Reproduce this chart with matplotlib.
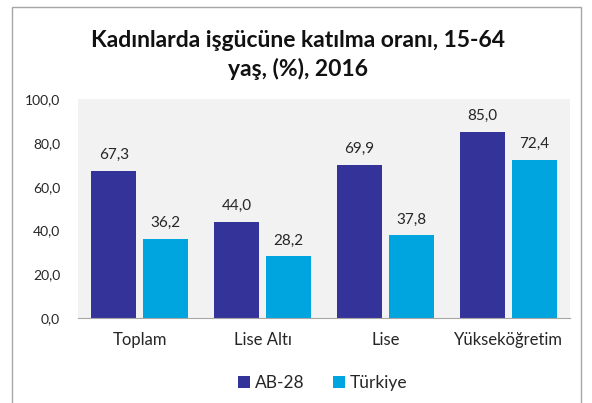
import matplotlib
import numpy as np

matplotlib.use("Agg")
import matplotlib.pyplot as plt  # noqa: E402
from matplotlib.patches import Rectangle  # noqa: E402

categories = ["Toplam", "Lise Altı", "Lise", "Yükseköğretim"]
ab28 = [67.3, 44.0, 69.9, 85.0]
turkiye = [36.2, 28.2, 37.8, 72.4]
series_names = ["AB-28", "Türkiye"]
yticks = [0, 20, 40, 60, 80, 100]

plt.rcParams["font.family"] = ["Lato", "DejaVu Sans"]

fig = plt.figure(figsize=(5.92, 4.03), dpi=100)
ax = fig.add_axes([0.132, 0.211, 0.831, 0.543])

# outer chart border (bottom edge runs off the image)
fig.patches.append(Rectangle((12 / 592, -0.05), 569 / 592, 1 - 7 / 403 + 0.05,
                             transform=fig.transFigure, fill=False,
                             edgecolor="#a6a6a6", linewidth=1.0))

x = np.arange(len(categories))
w = 0.366
off = 0.211
dark = "#333399"
light = "#00A5DF"
b1 = ax.bar(x - off, ab28, w, color=dark, label=series_names[0])
b2 = ax.bar(x + off, turkiye, w, color=light, label=series_names[1])

for bars, vals in ((b1, ab28), (b2, turkiye)):
    for rect, v in zip(bars, vals):
        ax.text(rect.get_x() + rect.get_width() / 2, v + 4,
                f"{v:.1f}".replace(".", ","), ha="center", va="bottom",
                fontsize=11, color="#262626")

ax.set_xlim(-0.5, len(categories) - 0.5)
ax.set_ylim(0, 100)
ax.set_yticks(yticks)
ax.set_yticklabels([f"{t:.1f}".replace(".", ",") for t in yticks],
                   fontsize=10, color="#262626")
ax.set_xticks(x)
ax.set_xticklabels(categories, fontsize=12, color="#262626")
ax.tick_params(axis="both", length=0)
ax.tick_params(axis="y", pad=13)
ax.tick_params(axis="x", pad=10)
ax.set_facecolor("#f2f2f2")
for s in ("top", "right", "left"):
    ax.spines[s].set_visible(False)
ax.spines["bottom"].set_color("#a6a6a6")

fig.text(298 / 592, 1 - 55 / 403,
         "Kadınlarda işgücüne katılma oranı, 15-64\nyaş, (%), 2016",
         ha="center", va="center", fontsize=16.5, fontweight="bold",
         linespacing=1.35, color="#111111")

fig.legend(handles=[b1, b2], loc="center", bbox_to_anchor=(0.545, 0.05),
           ncol=2, frameon=False, fontsize=12.5, handlelength=0.7,
           handleheight=0.7, handletextpad=0.3, columnspacing=1.6,
           labelcolor="#262626")

fig.savefig("out.png", dpi=100)
